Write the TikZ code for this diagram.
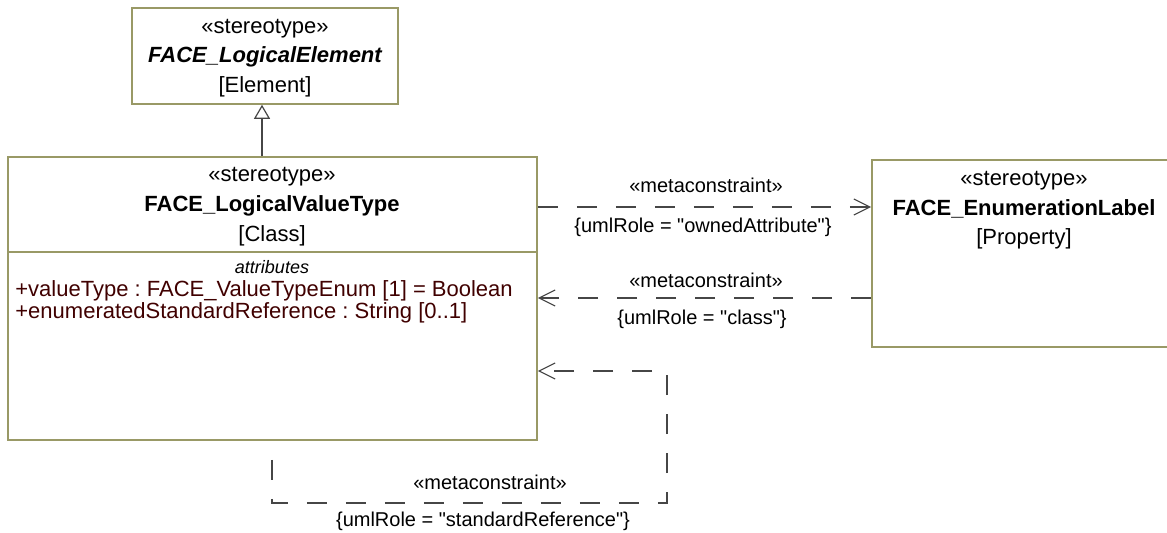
\documentclass[tikz,border=0pt]{standalone}
\usepackage{fontspec}
\setmainfont{Liberation Sans}
\usepackage{tikz}
\usepackage{xcolor}
\usetikzlibrary{arrows.meta,fit}
\frenchspacing
\definecolor{boxline}{RGB}{153,153,102}
\definecolor{attrtext}{RGB}{64,0,0}
\definecolor{conline}{RGB}{70,70,70}
\newcommand\hdrfont{\fontsize{11}{13}\selectfont}
\newcommand\lblfont{\fontsize{10}{12}\selectfont}
\begin{document}
\begin{tikzpicture}[x=0.5pt, y=-0.5pt,
    umlbox/.style={draw=boxline, line width=0.8pt, inner sep=0pt},
    hdr/.style={font=\hdrfont, anchor=base, inner sep=0pt},
    hdrname/.style={font=\hdrfont\bfseries, anchor=base, inner sep=0pt},
    cmp/.style={font=\fontsize{9}{11}\selectfont\itshape, anchor=base, inner sep=0pt},
    attr/.style={font=\hdrfont, text=attrtext, anchor=base west, inner sep=0pt},
    lbl/.style={font=\lblfont, anchor=base, inner sep=0pt},
    meta/.style={draw=conline, line width=0.6pt, dash pattern=on 10pt off 9.5pt, -{Straight Barb[length=8pt,width=8pt]}},
    gen/.style={draw=conline, line width=0.6pt, -{Triangle[open,length=7pt,width=8pt,fill=white]}}]
      \useasboundingbox (0,0) rectangle (1167,533);
      \clip (0,0) rectangle (1167,533);
      \node[umlbox, fit={(132,8) (398,104)}] (logel) {};
      \node[umlbox, fit={(8,157) (537,440)}] (lvt) {};
      \node[umlbox, fit={(872,160) (1178,347)}] (enl) {};
      \coordinate (divide) at (0,252);
      \draw[boxline, line width=0.8pt] (lvt.west |- divide) -- (lvt.east |- divide);
      \node[hdr] (logel-st) at (265,34) {«stereotype»};
      \node[hdrname, font=\hdrfont\bfseries\itshape] (logel-nm) at (265,63) {FACE\_LogicalElement};
      \node[hdr] (logel-mc) at (265,93) {[Element]};
      \node[hdr] (lvt-st) at (272,182) {«stereotype»};
      \node[hdrname] (lvt-nm) at (272,212) {FACE\_LogicalValueType};
      \node[hdr] (lvt-mc) at (272,242) {[Class]};
      \node[cmp] (lvt-cmp) at (272,274) {attributes};
      \node[attr] (lvt-a1) at (15,297) {+valueType : FACE\_ValueTypeEnum [1] = Boolean};
      \node[attr] (lvt-a2) at (15,319) {+enumeratedStandardReference : String [0..1]};
      \node[hdr] (enl-st) at (1024,186) {«stereotype»};
      \node[hdrname] (enl-nm) at (1024,216) {FACE\_EnumerationLabel};
      \node[hdr] (enl-mc) at (1024,245) {[Property]};
      \coordinate (genx) at (262,0);
      \coordinate (row1) at (0,207);
      \coordinate (row2) at (0,298);
      \coordinate (row3) at (0,371);
      \coordinate (selfa) at (272,503);
      \coordinate (selfb) at (667,503);
      \draw[gen] (lvt.north -| genx) -- (logel.south -| genx);
      \draw[meta] (lvt.east |- row1) -- (enl.west |- row1);
      \draw[meta] (enl.west |- row2) -- (lvt.east |- row2);
      \draw[meta, dash phase=10pt] (lvt.south -| selfa) -- (selfa) -- (selfb) -- (selfb |- row3) -- (lvt.east |- row3);
      \node[lbl] (own-st) at (706,193) {«metaconstraint»};
      \node[lbl] (own-rl) at (703,233) {\{umlRole = \textquotedbl ownedAttribute\textquotedbl\}};
      \node[lbl] (cls-st) at (706,288) {«metaconstraint»};
      \node[lbl] (cls-rl) at (702,325) {\{umlRole = \textquotedbl class\textquotedbl\}};
      \node[lbl] (ref-st) at (490,490) {«metaconstraint»};
      \node[lbl] (ref-rl) at (483,527) {\{umlRole = \textquotedbl standardReference\textquotedbl\}};
\end{tikzpicture}
\end{document}
